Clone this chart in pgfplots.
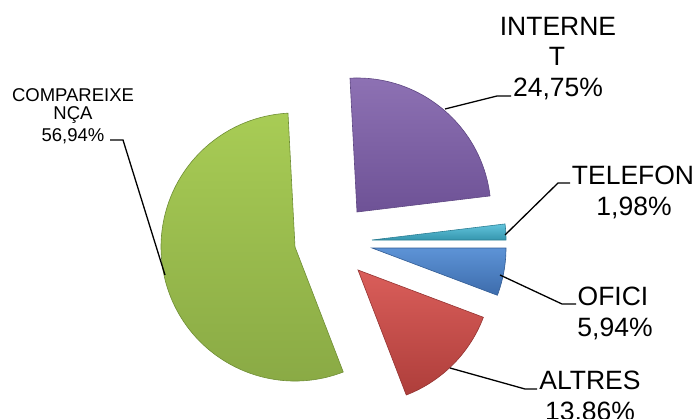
\documentclass[border=0pt]{standalone}
\usepackage{fontspec}
\setmainfont{Liberation Sans}
\usepackage{pgfplots}
\usepackage{pgfplotstable}
\pgfplotsset{compat=1.18}

\pgfplotstableread{
name value apx apy
Internet 24.75 357 206
Telefon 1.98 372 178
Ofici 5.94 372 170
Altres 13.86 358 148
Compareixenca 56.94 295 171
}\piedata

\definecolor{purT}{HTML}{8E72B4}\definecolor{purB}{HTML}{6E5296}\definecolor{purE}{HTML}{5E4682}
\definecolor{cyaT}{HTML}{62C4DC}\definecolor{cyaB}{HTML}{3596AE}\definecolor{cyaE}{HTML}{2B7E94}
\definecolor{bluT}{HTML}{5D93D6}\definecolor{bluB}{HTML}{3D6CAC}\definecolor{bluE}{HTML}{325C94}
\definecolor{redT}{HTML}{DA5E5A}\definecolor{redB}{HTML}{AE3E3B}\definecolor{redE}{HTML}{943331}
\definecolor{grnT}{HTML}{A8CC55}\definecolor{grnB}{HTML}{88A844}\definecolor{grnE}{HTML}{6F8E35}

\newcommand\getrow[2]{%
  \pgfplotstablegetelem{#1}{value}\of\piedata\expandafter\let\csname v#2\endcsname\pgfplotsretval
  \pgfplotstablegetelem{#1}{apx}\of\piedata\expandafter\let\csname x#2\endcsname\pgfplotsretval
  \pgfplotstablegetelem{#1}{apy}\of\piedata\expandafter\let\csname y#2\endcsname\pgfplotsretval}

\begin{document}
\begin{tikzpicture}
\getrow{0}{A}\getrow{1}{B}\getrow{2}{C}\getrow{3}{D}\getrow{4}{E}
\pgfmathsetmacro\tot{\vA+\vB+\vC+\vD+\vE}
\pgfmathsetmacro\sA{93}
\pgfmathsetmacro\sB{\sA-\vA/\tot*360}
\pgfmathsetmacro\sC{\sB-\vB/\tot*360}
\pgfmathsetmacro\sD{\sC-\vC/\tot*360}
\pgfmathsetmacro\sE{\sD-\vD/\tot*360}
\pgfmathsetmacro\sF{\sE-\vE/\tot*360}
\def\R{134pt}
\useasboundingbox (0,0) rectangle (698pt,418pt);
\begin{axis}[at={(0,0)}, anchor=south west, scale only axis,
  width=698pt, height=418pt, xmin=0, xmax=698, ymin=0, ymax=418,
  hide axis, clip=false]
% wedges
\shade[top color=purT, bottom color=purB, draw=purE, line width=0.6pt]
  (axis cs:\xA,\yA) -- ++(\sA:\R) arc[start angle=\sA, end angle=\sB, radius=\R] -- cycle;
\shade[top color=cyaT, bottom color=cyaB, draw=cyaE, line width=0.6pt]
  (axis cs:\xB,\yB) -- ++(\sB:\R) arc[start angle=\sB, end angle=\sC, radius=\R] -- cycle;
\shade[top color=bluT, bottom color=bluB, draw=bluE, line width=0.6pt]
  (axis cs:\xC,\yC) -- ++(\sC:\R) arc[start angle=\sC, end angle=\sD, radius=\R] -- cycle;
\shade[top color=redT, bottom color=redB, draw=redE, line width=0.6pt]
  (axis cs:\xD,\yD) -- ++(\sD:\R) arc[start angle=\sD, end angle=\sE, radius=\R] -- cycle;
\shade[top color=grnT, bottom color=grnB, draw=grnE, line width=0.6pt]
  (axis cs:\xE,\yE) -- ++(\sE:\R) arc[start angle=\sE, end angle=\sF, radius=\R] -- cycle;
% leader lines
\draw[black, line width=1.3pt] (axis cs:445,309) -- (axis cs:497,322) -- (axis cs:511,322);
\draw[black, line width=1.3pt] (axis cs:505,183) -- (axis cs:558,235) -- (axis cs:570,235);
\draw[black, line width=1.3pt] (axis cs:500,143) -- (axis cs:562,114) -- (axis cs:576,114);
\draw[black, line width=1.3pt] (axis cs:450,50) -- (axis cs:525,29) -- (axis cs:537,29);
\draw[black, line width=1.3pt] (axis cs:110,278) -- (axis cs:123,278) -- (axis cs:165,143);
% labels
\begin{scope}[every node/.style={inner sep=0pt, anchor=base, font=\fontsize{26.5}{30}\selectfont}]
\node at (axis cs:558,382) {INTERNE};
\node at (axis cs:557,352) {T};
\node at (axis cs:558,321) {24,75\%};
\node at (axis cs:633,233) {TELEFON};
\node at (axis cs:634,202) {1,98\%};
\node at (axis cs:613,113) {OFICI};
\node at (axis cs:615,82) {5,94\%};
\node at (axis cs:590,29) {ALTRES};
\node at (axis cs:590,-2) {13,86\%};
\end{scope}
\begin{scope}[every node/.style={inner sep=0pt, anchor=base, font=\fontsize{18.5}{22}\selectfont}]
\node at (axis cs:73,316) {COMPAREIXE};
\node at (axis cs:73,298) {NÇA};
\node at (axis cs:73,276) {56,94\%};
\end{scope}
\end{axis}
\end{tikzpicture}
\end{document}
